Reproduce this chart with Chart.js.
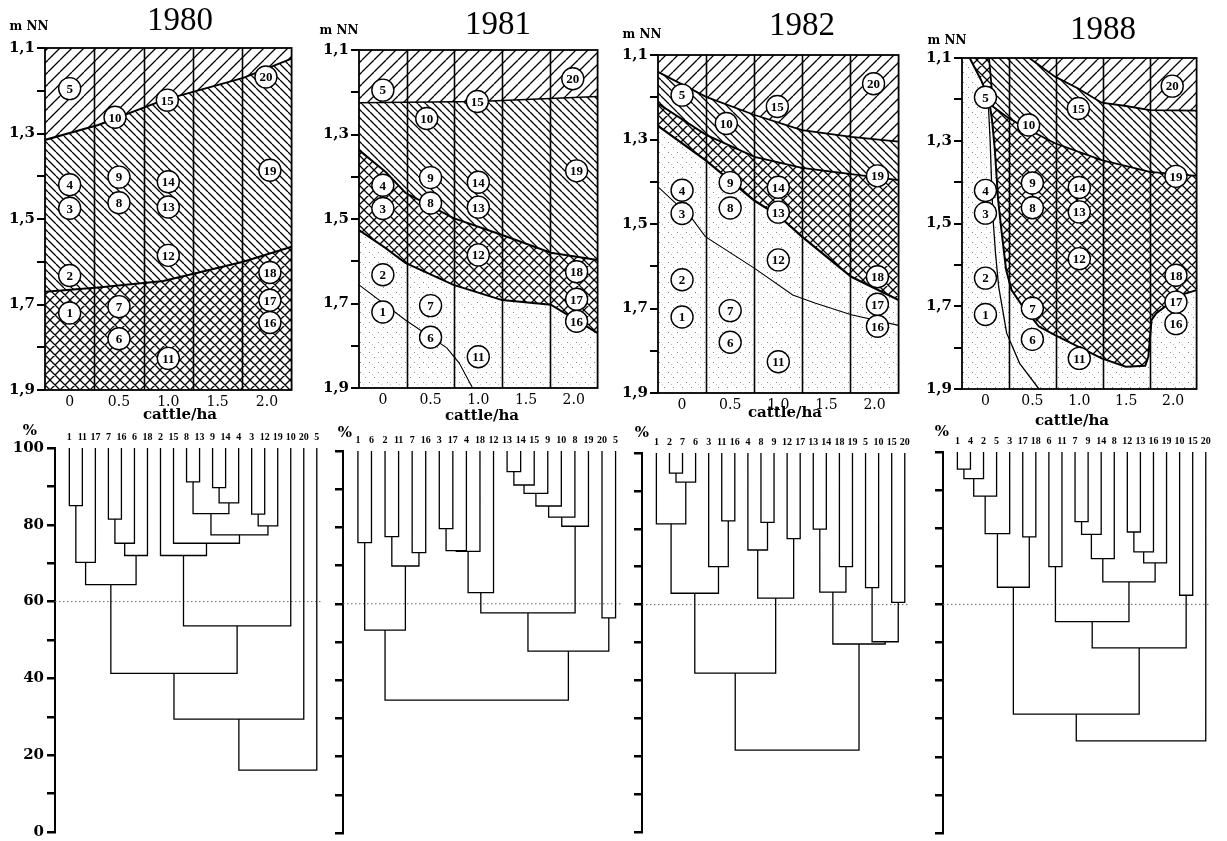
<!DOCTYPE html>
<html>
<head>
<meta charset="utf-8">
<title>Vegetation zones and plot clustering under grazing, 1980–1988</title>
<script src="https://cdn.jsdelivr.net/npm/chart.js@4.4.1/dist/chart.umd.min.js"></script>
<style>
  html, body { margin: 0; padding: 0; background: #fff; }
  body { width: 1227px; height: 841px; position: relative; overflow: hidden; }
  canvas { position: absolute; }
</style>
</head>
<body>
<script>
// ---------------------------------------------------------------
// data
// ---------------------------------------------------------------
const YEARS = ['1980', '1981', '1982', '1988'];
const RATES = [0, 0.5, 1.0, 1.5, 2.0];                               // cattle/ha
const ELEV_TICKS = [1.1, 1.2, 1.3, 1.4, 1.5, 1.6, 1.7, 1.8, 1.9];     // m NN
const PCT_TICKS = [0, 10, 20, 30, 40, 50, 60, 70, 80, 90, 100];
const CUT_LEVEL = 60;

// permanent plots: number, stocking rate, elevation
const PLOT_IDS  = [1, 2, 3, 4, 5, 6, 7, 8, 9, 10, 11, 12, 13, 14, 15, 16, 17, 18, 19, 20];
const PLOT_RATE = [0, 0, 0, 0, 0, 0.5, 0.5, 0.5, 0.5, 0.46, 1.0, 1.0, 1.0, 1.0, 0.99, 2.03, 2.03, 2.03, 2.03, 1.99];
const PLOT_ELEV = [1.72, 1.632, 1.475, 1.42, 1.195, 1.78, 1.705, 1.462, 1.402, 1.262, 1.826, 1.585, 1.472, 1.413, 1.222, 1.742, 1.69, 1.625, 1.386, 1.168];

// zone boundaries as [cattle/ha, m NN]
const B80_TOP_MID   = [[-0.25, 1.315], [0.29, 1.28], [0.95, 1.222], [1.76, 1.17], [2.25, 1.125]];
const B80_MID_CROSS = [[-0.25, 1.67], [0.29, 1.66], [0.95, 1.645], [1.76, 1.60], [2.25, 1.565]];

const B81_TOP_MID   = [[-0.25, 1.225], [1.0, 1.222], [2.25, 1.21]];
const B81_MID_CROSS = [[-0.25, 1.337], [0.03, 1.389], [0.236, 1.438], [0.74, 1.498], [1.25, 1.538], [1.76, 1.58], [2.25, 1.597]];
const B81_CROSS_DOT = [[-0.25, 1.526], [0.03, 1.569], [0.236, 1.604], [0.74, 1.656], [1.25, 1.692], [1.76, 1.703], [2.25, 1.77]];
const B81_DOT       = [[-0.25, 1.656], [0.236, 1.739], [0.67, 1.805], [0.80, 1.841], [0.94, 1.9]];

const B82_TOP_MID   = [[-0.25, 1.14], [0.25, 1.199], [0.754, 1.242], [1.246, 1.278], [1.758, 1.294], [2.25, 1.305]];
const B82_MID_CROSS = [[-0.25, 1.215], [0.25, 1.289], [0.754, 1.341], [1.246, 1.367], [1.758, 1.382], [2.25, 1.396]];
const B82_CROSS_DOT = [[-0.25, 1.268], [0.25, 1.35], [0.754, 1.445], [1.0, 1.48], [1.246, 1.53], [1.758, 1.625], [2.25, 1.68]];
const B82_DOT       = [[-0.25, 1.412], [0.1, 1.486], [0.242, 1.53], [0.754, 1.605], [1.15, 1.668], [1.38, 1.687], [1.758, 1.715], [2.25, 1.74]];

const B88_TOP_MID   = [[0.467, 1.1], [0.741, 1.145], [0.982, 1.173], [1.239, 1.208], [1.496, 1.216], [1.753, 1.226], [2.25, 1.227]];
const B88_MID_CROSS = [[0.038, 1.1], [0.062, 1.161], [0.082, 1.218], [0.226, 1.242], [0.432, 1.27], [0.57, 1.286], [0.741, 1.306], [1.239, 1.347], [1.753, 1.375], [2.25, 1.385]];
const B88_CROSS_DOT = [[-0.168, 1.1], [-0.047, 1.153], [0.038, 1.2], [0.07, 1.25], [0.1, 1.322], [0.135, 1.443], [0.17, 1.516], [0.22, 1.612], [0.278, 1.661], [0.398, 1.701], [0.57, 1.749], [0.741, 1.77], [1.239, 1.826], [1.496, 1.846], [1.702, 1.844], [1.736, 1.822], [1.77, 1.733], [1.821, 1.717], [1.959, 1.693], [2.078, 1.673], [2.25, 1.661]];
const B88_DOT       = [[0.03, 1.21], [0.05, 1.3], [0.065, 1.4], [0.082, 1.492], [0.107, 1.572], [0.141, 1.653], [0.226, 1.765], [0.364, 1.838], [0.57, 1.9]];

// cluster trees: leaf order, merges [a, b, similarity %]
// a / b > 0 is a plot number, < 0 refers to an earlier merge (1-based)
const LEAVES_1980 = [1, 11, 17, 7, 16, 6, 18, 2, 15, 8, 13, 9, 14, 4, 3, 12, 19, 10, 20, 5];
const MERGES_1980 = [[1, 11, 85], [-1, 17, 70.2], [7, 16, 81.5], [-3, 6, 75.2], [-4, 18, 72], [-2, -5, 64.4],
  [8, 13, 91.2], [9, 14, 89.7], [-8, 4, 85.7], [-7, -9, 82.9], [3, 12, 82.8], [-11, 19, 79.7], [-10, -12, 77.4],
  [15, -13, 75.2], [2, -14, 72], [-15, 10, 53.7], [-6, -16, 41.3], [-17, 20, 29.4], [-18, 5, 16.1]];

const LEAVES_1981 = [1, 6, 2, 11, 7, 16, 3, 17, 4, 18, 12, 13, 14, 15, 9, 10, 8, 19, 20, 5];
const MERGES_1981 = [[1, 6, 76], [2, 11, 77.6], [7, 16, 73.4], [-2, -3, 69.9], [-1, -4, 53.1],
  [3, 17, 79.7], [-6, 4, 73.9], [-7, 18, 73.7], [-8, 12, 62.9],
  [13, 14, 94.6], [-10, 15, 91.1], [-11, 9, 88.9], [-12, 10, 85.6], [-13, 8, 82.7], [-14, 19, 80.3],
  [-9, -15, 57.6], [20, 5, 56.3], [-16, -17, 47.6], [-5, -18, 34.8]];

const LEAVES_1982 = [1, 2, 7, 6, 3, 11, 16, 4, 8, 9, 12, 17, 13, 14, 18, 19, 5, 10, 15, 20];
const MERGES_1982 = [[2, 7, 94.7], [-1, 6, 92.3], [1, -2, 81.3], [11, 16, 82.1], [3, -4, 70], [-3, -5, 63],
  [8, 9, 81.7], [4, -7, 74.4], [12, 17, 77.4], [-8, -9, 61.7], [-6, -10, 41.9],
  [13, 14, 79.9], [18, 19, 70], [-12, -13, 63.3], [5, 10, 64.5], [15, 20, 60.6], [-15, -16, 50.2],
  [-14, -17, 49.6], [-11, -18, 21.6]];

const LEAVES_1988 = [1, 4, 2, 5, 3, 17, 18, 6, 11, 7, 9, 14, 8, 12, 13, 16, 19, 10, 15, 20];
const MERGES_1988 = [[1, 4, 95.5], [-1, 2, 93], [-2, 5, 88.4], [-3, 3, 78.6], [17, 18, 77.7], [-4, -5, 64.5],
  [6, 11, 69.9], [7, 9, 81.7], [-8, 14, 78.4], [-9, 8, 72], [12, 13, 79], [-11, 16, 73.8], [-12, 19, 70.9],
  [-10, -13, 65.9], [-7, -14, 55.5], [10, 15, 62.4], [-15, -16, 48.6], [-6, -17, 31.2], [-18, 20, 24.2]];

// ---------------------------------------------------------------
// page layout (px)
// ---------------------------------------------------------------
const TOP_AREA = [
  { l: 45, t: 48, r: 300, b: 390 },
  { l: 359, t: 50, r: 606, b: 388 },
  { l: 658, t: 55, r: 907, b: 393 },
  { l: 962, t: 58, r: 1205, b: 389 }
];
const DENDRO_AREA = [
  { l: 55, t: 448, r: 322, b: 832 },
  { l: 343, t: 451, r: 621, b: 833 },
  { l: 642, t: 453, r: 910, b: 832 },
  { l: 943, t: 452, r: 1211, b: 833 }
];
const TITLE_POS  = [[180, 21], [498, 25], [802, 26], [1103, 30]];
const UNIT_POS   = [[29, 27], [339, 31], [642, 35], [947, 41]];
const CATTLE_POS = [[180, 415], [482, 416], [785, 413], [1072, 421]];
const PCT_POS    = [[30, 431], [345, 433], [642, 433], [942, 432]];

const SERIF = 'DejaVu Serif';
const Y_AXIS_W = 45, X_AXIS_H = 30;
const D_AXIS_W = 50, D_TOP_H = 18, D_TOP = 418;
const X_MIN_LEAF = -1.1, X_MAX_LEAF = 19.4;

// ---------------------------------------------------------------
// helpers
// ---------------------------------------------------------------
const EDGE_TOP = [[-0.25, 1.1], [2.25, 1.1]];
const EDGE_BOTTOM = [[-0.25, 1.9], [2.25, 1.9]];
const band = (upper, lower) => upper.concat(lower.slice().reverse());
const toXY = pts => pts.map(([x, y]) => ({ x, y }));

function makeCanvas(left, top, width, height) {
  const c = document.createElement('canvas');
  c.width = width; c.height = height;
  c.style.left = left + 'px'; c.style.top = top + 'px';
  c.style.width = width + 'px'; c.style.height = height + 'px';
  document.body.appendChild(c);
  return c;
}

// hatch tiles
function hatchTile(step, dirs, lw) {
  const c = document.createElement('canvas');
  c.width = c.height = step;
  const g = c.getContext('2d');
  g.strokeStyle = '#000';
  g.lineWidth = lw;
  g.beginPath();
  dirs.forEach(d => {
    for (let k = -1; k <= 1; k++) {
      if (d === '/') { g.moveTo(k * step, step); g.lineTo(k * step + step, 0); }
      else { g.moveTo(k * step, 0); g.lineTo(k * step + step, step); }
    }
  });
  g.stroke();
  return c;
}
function stippleTile() {
  const c = document.createElement('canvas');
  c.width = 9; c.height = 10;
  const g = c.getContext('2d');
  g.fillStyle = '#8a8a8a';
  g.fillRect(1, 2, 1, 1);
  g.fillRect(6, 7, 1, 1);
  g.fillStyle = '#c4c4c4';
  g.fillRect(4, 4, 1, 1);
  return c;
}
const TILES = {
  slash: hatchTile(12, ['/'], 1.3),
  back: hatchTile(8, ['\\'], 1.3),
  cross: hatchTile(10, ['/', '\\'], 1.3),
  dots: stippleTile()
};

function fixAxis(size) {
  return scale => {
    if (scale.isHorizontal()) { scale.height = size; scale.paddingLeft = 0; scale.paddingRight = 0; }
    else { scale.width = size; scale.paddingTop = 0; scale.paddingBottom = 0; }
  };
}

function textPlugin(items, left, top) {
  return {
    id: 'pageText',
    afterDraw(chart) {
      const ctx = chart.ctx;
      ctx.save();
      ctx.fillStyle = '#000';
      ctx.textAlign = 'center';
      ctx.textBaseline = 'middle';
      items.forEach(it => {
        ctx.font = it.font;
        ctx.fillText(it.text, it.x - left, it.y - top);
      });
      ctx.restore();
    }
  };
}

// hatched zones, column dividers and frame of a zone panel
function zonePlugin(zones) {
  return {
    id: 'zones',
    beforeDatasetsDraw(chart) {
      const { ctx, chartArea: a, scales: { x, y } } = chart;
      const pat = name => ctx.createPattern(TILES[name], 'repeat');
      ctx.save();
      ctx.beginPath();
      ctx.rect(a.left, a.top, a.right - a.left, a.bottom - a.top);
      ctx.clip();
      ctx.fillStyle = '#fff';
      ctx.fillRect(a.left, a.top, a.right - a.left, a.bottom - a.top);
      ctx.fillStyle = pat('dots');
      ctx.fillRect(a.left, a.top, a.right - a.left, a.bottom - a.top);
      zones.forEach(z => {
        ctx.beginPath();
        z.poly.forEach(([vx, vy], i) => {
          const px = x.getPixelForValue(vx), py = y.getPixelForValue(vy);
          if (i === 0) ctx.moveTo(px, py); else ctx.lineTo(px, py);
        });
        ctx.closePath();
        ctx.fillStyle = '#fff';
        ctx.fill();
        ctx.fillStyle = pat(z.hatch);
        ctx.fill();
      });
      // dividers half way between stocking rates
      ctx.strokeStyle = '#000';
      ctx.lineWidth = 1.6;
      ctx.beginPath();
      for (let i = 1; i < RATES.length; i++) {
        const px = Math.round(x.getPixelForValue((RATES[i - 1] + RATES[i]) / 2)) + 0.5;
        ctx.moveTo(px, a.top);
        ctx.lineTo(px, a.bottom);
      }
      ctx.stroke();
      ctx.restore();
    },
    afterDatasetsDraw(chart) {
      const { ctx, chartArea: a } = chart;
      ctx.save();
      ctx.strokeStyle = '#000';
      ctx.lineWidth = 1.8;
      ctx.strokeRect(a.left, a.top, a.right - a.left, a.bottom - a.top);
      // plot numbers inside the circles
      const meta = chart.getDatasetMeta(0);
      ctx.fillStyle = '#000';
      ctx.font = 'bold 13px "Liberation Serif"';
      ctx.textAlign = 'center';
      ctx.textBaseline = 'middle';
      meta.data.forEach((pt, i) => ctx.fillText(String(PLOT_IDS[i]), pt.x, pt.y + 1));
      ctx.restore();
    }
  };
}

// ---------------------------------------------------------------
// zone panels
// ---------------------------------------------------------------
function drawZonePanel(k, zones, lines) {
  const a = TOP_AREA[k];
  const left = a.l - Y_AXIS_W, top = 0;
  const W = a.r - left + 4, H = 432;
  const canvas = makeCanvas(left, top, W, H);

  const datasets = [{
    data: PLOT_IDS.map((id, i) => ({ x: PLOT_RATE[i], y: PLOT_ELEV[i] })),
    pointRadius: 11,
    pointBackgroundColor: '#fff',
    pointBorderColor: '#000',
    pointBorderWidth: 1.4,
    showLine: false
  }];
  lines.forEach(([pts, w]) => datasets.push({
    data: toXY(pts),
    showLine: true,
    borderColor: '#000',
    borderWidth: w,
    pointRadius: 0,
    tension: 0,
    fill: false
  }));

  const texts = [
    { text: YEARS[k], x: TITLE_POS[k][0], y: TITLE_POS[k][1], font: '33px "Liberation Serif"' },
    { text: 'm NN', x: UNIT_POS[k][0], y: UNIT_POS[k][1], font: 'bold 12px ' + SERIF },
    { text: 'cattle/ha', x: CATTLE_POS[k][0], y: CATTLE_POS[k][1], font: 'bold 15px ' + SERIF }
  ];

  new Chart(canvas, {
    type: 'scatter',
    data: { datasets },
    options: {
      responsive: false,
      animation: false,
      devicePixelRatio: 1,
      layout: { padding: { left: 0, top: a.t, right: W - (a.r - left), bottom: H - a.b - X_AXIS_H } },
      plugins: { legend: { display: false }, tooltip: { enabled: false } },
      scales: {
        x: {
          type: 'linear', min: -0.25, max: 2.25,
          afterBuildTicks: s => { s.ticks = RATES.map(v => ({ value: v })); },
          afterFit: fixAxis(X_AXIS_H),
          grid: { display: false, drawTicks: false },
          border: { display: false },
          ticks: {
            autoSkip: false, maxRotation: 0, padding: 4, color: '#000',
            font: { family: SERIF, size: 14 },
            callback: v => (v === 0 ? '0' : v.toFixed(1))
          }
        },
        y: {
          type: 'linear', min: 1.1, max: 1.9, reverse: true,
          afterBuildTicks: s => { s.ticks = ELEV_TICKS.map(v => ({ value: v })); },
          afterFit: fixAxis(Y_AXIS_W),
          grid: { drawOnChartArea: false, drawTicks: true, tickLength: 8, lineWidth: 2, color: '#000' },
          border: { display: false },
          ticks: {
            autoSkip: false, padding: 2, color: '#000',
            font: { family: SERIF, size: 15, weight: 'bold' },
            callback: (v, i) => (i % 2 === 0 ? v.toFixed(1).replace('.', ',') : '')
          }
        }
      }
    },
    plugins: [zonePlugin(zones), textPlugin(texts, left, top)]
  });
}

// ---------------------------------------------------------------
// dendrograms
// ---------------------------------------------------------------
function dendroPoints(leaves, merges) {
  const leafPos = {};
  leaves.forEach((id, i) => { leafPos[id] = { x: i, h: 100 }; });
  const nodes = [];
  const pts = [];
  const node = ref => (ref > 0 ? leafPos[ref] : nodes[-ref - 1]);
  merges.forEach(([a, b, h]) => {
    const L = node(a), R = node(b);
    pts.push({ x: L.x, y: L.h }, { x: L.x, y: h }, { x: R.x, y: h }, { x: R.x, y: R.h }, { x: R.x, y: null });
    nodes.push({ x: (L.x + R.x) / 2, h });
  });
  return pts;
}

function drawDendrogram(k, leaves, merges) {
  const a = DENDRO_AREA[k];
  const left = a.l - D_AXIS_W, top = D_TOP;
  const W = a.r - left + 6, H = 841 - top;
  const canvas = makeCanvas(left, top, W, H);

  const texts = [{ text: '%', x: PCT_POS[k][0], y: PCT_POS[k][1], font: 'bold 15px ' + SERIF }];

  new Chart(canvas, {
    type: 'scatter',
    data: {
      datasets: [
        {
          data: dendroPoints(leaves, merges),
          showLine: true, spanGaps: false,
          borderColor: '#000', borderWidth: 1.3,
          pointRadius: 0, tension: 0
        },
        {
          data: [{ x: X_MIN_LEAF, y: CUT_LEVEL }, { x: X_MAX_LEAF, y: CUT_LEVEL }],
          showLine: true,
          borderColor: '#666', borderWidth: 1, borderDash: [1.5, 2.5],
          pointRadius: 0
        }
      ]
    },
    options: {
      responsive: false,
      animation: false,
      devicePixelRatio: 1,
      layout: { padding: { left: 0, top: a.t - top - D_TOP_H, right: W - (a.r - left), bottom: 841 - a.b } },
      plugins: { legend: { display: false }, tooltip: { enabled: false } },
      scales: {
        x: {
          type: 'linear', position: 'top', min: X_MIN_LEAF, max: X_MAX_LEAF,
          afterBuildTicks: s => { s.ticks = leaves.map((id, i) => ({ value: i })); },
          afterFit: fixAxis(D_TOP_H),
          grid: { display: false, drawTicks: false },
          border: { display: false },
          ticks: {
            autoSkip: false, maxRotation: 0, minRotation: 0, padding: 5, color: '#000',
            font: { family: 'Liberation Serif', size: 10, weight: 'bold' },
            callback: v => String(leaves[v])
          }
        },
        y: {
          type: 'linear', min: 0, max: 100,
          afterBuildTicks: s => { s.ticks = PCT_TICKS.map(v => ({ value: v })); },
          afterFit: fixAxis(D_AXIS_W),
          grid: { drawOnChartArea: false, drawTicks: true, tickLength: 8, lineWidth: 2.5, color: '#000' },
          border: { display: true, color: '#000', width: 2 },
          ticks: {
            autoSkip: false, padding: 3, color: '#000',
            font: { family: SERIF, size: 15, weight: 'bold' },
            callback: v => (k === 0 && v % 20 === 0 ? String(v) : '')
          }
        }
      }
    },
    plugins: [textPlugin(texts, left, top)]
  });
}

// ---------------------------------------------------------------
// build the four years
// ---------------------------------------------------------------
drawZonePanel(0,
  [{ hatch: 'slash', poly: band(EDGE_TOP, B80_TOP_MID) },
   { hatch: 'back', poly: band(B80_TOP_MID, B80_MID_CROSS) },
   { hatch: 'cross', poly: band(B80_MID_CROSS, EDGE_BOTTOM) }],
  [[B80_TOP_MID, 2], [B80_MID_CROSS, 2]]);

drawZonePanel(1,
  [{ hatch: 'slash', poly: band(EDGE_TOP, B81_TOP_MID) },
   { hatch: 'back', poly: band(B81_TOP_MID, B81_MID_CROSS) },
   { hatch: 'cross', poly: band(B81_MID_CROSS, B81_CROSS_DOT) }],
  [[B81_TOP_MID, 1.6], [B81_MID_CROSS, 2], [B81_CROSS_DOT, 2], [B81_DOT, 1.1]]);

drawZonePanel(2,
  [{ hatch: 'slash', poly: band(EDGE_TOP, B82_TOP_MID) },
   { hatch: 'back', poly: band(B82_TOP_MID, B82_MID_CROSS) },
   { hatch: 'cross', poly: band(B82_MID_CROSS, B82_CROSS_DOT) }],
  [[B82_TOP_MID, 1.8], [B82_MID_CROSS, 1.8], [B82_CROSS_DOT, 2.2], [B82_DOT, 1.1]]);

drawZonePanel(3,
  [{ hatch: 'slash', poly: band([[B88_TOP_MID[0][0], 1.1], [2.25, 1.1]], B88_TOP_MID) },
   { hatch: 'back', poly: band([B88_MID_CROSS[0]].concat(B88_TOP_MID), B88_MID_CROSS) },
   { hatch: 'cross', poly: band([B88_CROSS_DOT[0]].concat(B88_MID_CROSS), B88_CROSS_DOT) }],
  [[B88_TOP_MID, 1.8], [B88_MID_CROSS, 1.8], [B88_CROSS_DOT, 2], [B88_DOT, 1.3]]);

drawDendrogram(0, LEAVES_1980, MERGES_1980);
drawDendrogram(1, LEAVES_1981, MERGES_1981);
drawDendrogram(2, LEAVES_1982, MERGES_1982);
drawDendrogram(3, LEAVES_1988, MERGES_1988);
</script>
</body>
</html>
